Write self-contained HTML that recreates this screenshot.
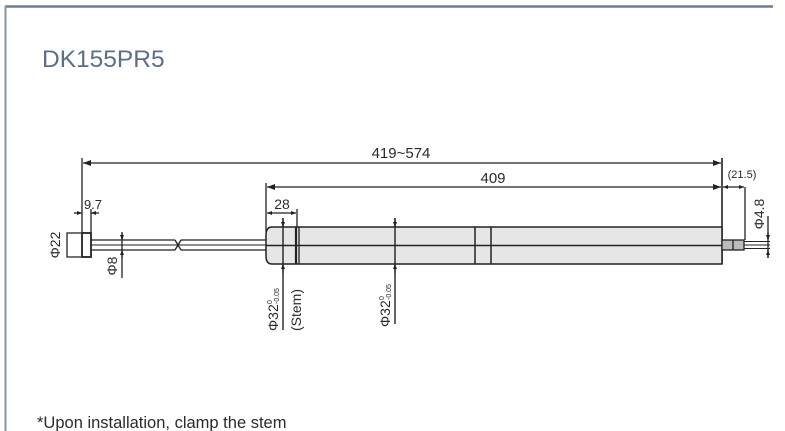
<!DOCTYPE html>
<html><head><meta charset="utf-8"><style>
html,body{margin:0;padding:0;background:#fff;}
svg{display:block;}
text{font-family:"Liberation Sans",Arial,sans-serif;fill:#2a2a2a;}
</style></head><body>
<svg width="785" height="431" viewBox="0 0 785 431" xmlns="http://www.w3.org/2000/svg">
<defs>
<marker id="a" markerWidth="8" markerHeight="6" refX="8" refY="3" orient="auto-start-reverse" markerUnits="userSpaceOnUse"><path d="M0,0 L8,3 L0,6z" fill="#222"/></marker>
<marker id="s" markerWidth="5" markerHeight="4" refX="5" refY="2" orient="auto-start-reverse" markerUnits="userSpaceOnUse"><path d="M0,0 L5,2 L0,4z" fill="#222"/></marker>
</defs>
<line x1="5" y1="6.5" x2="773" y2="6.5" stroke="#6b7f98" stroke-width="2.5"/>
<line x1="5.5" y1="6" x2="5.5" y2="431" stroke="#8494aa" stroke-width="2"/>
<text x="42" y="67" font-size="24.5" style="fill:#5b6f88">DK155PR5</text>

<g stroke="#222" fill="none" stroke-width="1.3">
<line x1="82" y1="158" x2="82" y2="233"/>
<line x1="722" y1="158" x2="722" y2="264" stroke-width="1.6"/>
<line x1="83" y1="163" x2="721" y2="163" marker-start="url(#a)" marker-end="url(#a)"/>
<line x1="266" y1="183" x2="266" y2="232"/>
<line x1="267" y1="187" x2="721" y2="187" marker-start="url(#a)" marker-end="url(#a)"/>
<line x1="297" y1="209" x2="297" y2="227"/>
<line x1="267" y1="213" x2="296" y2="213" marker-start="url(#s)" marker-end="url(#s)"/>
<line x1="91" y1="209" x2="91" y2="233"/>
<line x1="74" y1="213" x2="82" y2="213" marker-end="url(#s)"/>
<line x1="99" y1="213" x2="91" y2="213" marker-end="url(#s)"/>
<rect x="82" y="233" width="9" height="24" stroke-width="1.8"/>
<path d="M81,233 H67 V257 H81"/>
<line x1="91" y1="240" x2="175" y2="240"/><line x1="91" y1="250" x2="175" y2="250"/>
<line x1="181" y1="240" x2="266" y2="240"/><line x1="181" y1="250" x2="266" y2="250"/>
<path d="M175,240 L181,250 M175,250 L181,240"/>
<line x1="91" y1="245" x2="266" y2="245" stroke-width="1"/>
<line x1="122" y1="232" x2="122" y2="278"/>
<line x1="122" y1="233" x2="122" y2="240" marker-end="url(#s)"/>
<line x1="122" y1="258" x2="122" y2="250" marker-end="url(#s)"/>
<path d="M272,227 H722 V264 H272 Q266,264 266,256 V235 Q266,227 272,227 Z" fill="#e6e6e6" stroke-width="1.5"/>
<line x1="266" y1="245.5" x2="722" y2="245.5" stroke-width="1.4"/>
<line x1="296" y1="227" x2="296" y2="264" stroke-width="2.2"/>
<line x1="299" y1="227" x2="299" y2="264"/>
<line x1="475" y1="227" x2="475" y2="264" stroke-width="1.5"/>
<line x1="491" y1="227" x2="491" y2="264" stroke-width="1.5"/>
<line x1="283" y1="218" x2="283" y2="330" stroke-width="1.4"/>
<line x1="283" y1="218" x2="283" y2="227" marker-end="url(#s)"/>
<line x1="283" y1="273" x2="283" y2="264" marker-end="url(#s)"/>
<line x1="395" y1="218" x2="395" y2="324" stroke-width="1.4"/>
<line x1="395" y1="218" x2="395" y2="227" marker-end="url(#s)"/>
<line x1="395" y1="273" x2="395" y2="264" marker-end="url(#s)"/>
<rect x="722" y="240" width="22" height="10" fill="#bbb"/>
<line x1="733" y1="240" x2="733" y2="250"/>
<line x1="744" y1="241.5" x2="770" y2="241.5" stroke-width="0.9"/>
<line x1="744" y1="245" x2="770" y2="245" stroke-width="0.9"/>
<line x1="744" y1="248.5" x2="770" y2="248.5" stroke-width="0.9"/>
<line x1="745" y1="187" x2="745" y2="240"/>
<line x1="723" y1="187" x2="744" y2="187" marker-start="url(#s)" marker-end="url(#s)"/>
<line x1="768" y1="216" x2="768" y2="258"/>
<line x1="768" y1="232" x2="768" y2="240" marker-end="url(#s)"/>
<line x1="768" y1="258" x2="768" y2="250" marker-end="url(#s)"/>
</g>

<text x="401" y="158" font-size="15" text-anchor="middle">419~574</text>
<text x="493" y="183" font-size="15" text-anchor="middle">409</text>
<text x="282" y="209" font-size="14" text-anchor="middle">28</text>
<text x="93" y="209" font-size="13" text-anchor="middle">9.7</text>
<text x="742" y="178" font-size="11" text-anchor="middle">(21.5)</text>
<text transform="translate(60,245) rotate(-90)" font-size="14" text-anchor="middle">Φ22</text>
<text transform="translate(117,266) rotate(-90)" font-size="14" text-anchor="middle">Φ8</text>
<text transform="translate(764,214) rotate(-90)" font-size="14" text-anchor="middle">Φ4.8</text>
<text transform="translate(278,331) rotate(-90)" font-size="14">Φ32</text>
<text transform="translate(272,304) rotate(-90)" font-size="7">0</text>
<text transform="translate(279,304) rotate(-90)" font-size="7">-0.05</text>
<text transform="translate(301,331) rotate(-90)" font-size="14">(Stem)</text>
<text transform="translate(390,327) rotate(-90)" font-size="14">Φ32</text>
<text transform="translate(384,300) rotate(-90)" font-size="7">0</text>
<text transform="translate(391,300) rotate(-90)" font-size="7">-0.05</text>

<text x="37" y="428" font-size="16.5">*Upon installation, clamp the stem</text>
</svg>
</body></html>
